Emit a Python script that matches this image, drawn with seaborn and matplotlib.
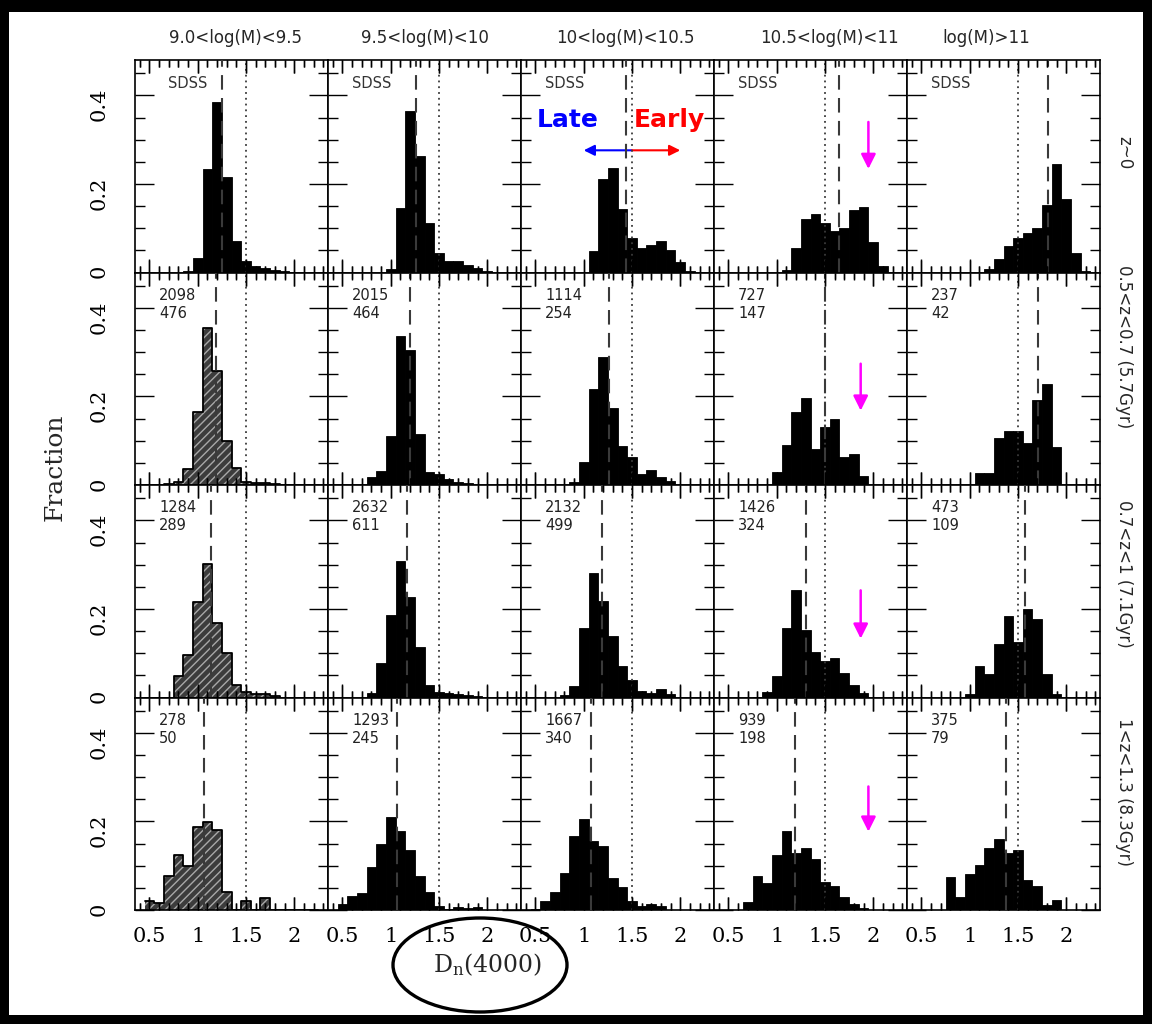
import numpy as np
import pandas as pd
import matplotlib
matplotlib.use("Agg")
import matplotlib.pyplot as plt
from matplotlib.patches import Ellipse, Rectangle
from matplotlib.ticker import MultipleLocator, FuncFormatter
import seaborn as sns

# ---------------------------------------------------------------- data
# D_n(4000) bin centres (bin width 0.1) shared by all panels
dn_bins = [0.5, 0.6, 0.7, 0.8, 0.9, 1.0, 1.1, 1.2, 1.3, 1.4,
           1.5, 1.6, 1.7, 1.8, 1.9, 2.0, 2.1, 2.2]
dn_edges = [0.45, 0.55, 0.65, 0.75, 0.85, 0.95, 1.05, 1.15, 1.25, 1.35,
            1.45, 1.55, 1.65, 1.75, 1.85, 1.95, 2.05, 2.15, 2.25]

mass_labels = ["9.0<log(M)<9.5", "9.5<log(M)<10", "10<log(M)<10.5",
               "10.5<log(M)<11", "log(M)>11"]
z_labels = ["z~0", "0.5<z<0.7 (5.7Gyr)", "0.7<z<1 (7.1Gyr)",
            "1<z<1.3 (8.3Gyr)"]

# fraction of galaxies per bin, z~0 (SDSS)
frac_z0_m1 = [0, 0, 0, 0, 0.003, 0.033, 0.234, 0.385, 0.215, 0.072, 0.025, 0.015, 0.010, 0.006, 0.004, 0.002, 0, 0]
frac_z0_m2 = [0, 0, 0, 0, 0, 0.008, 0.145, 0.364, 0.264, 0.111, 0.044, 0.026, 0.025, 0.017, 0.011, 0.004, 0, 0]
frac_z0_m3 = [0, 0, 0, 0, 0, 0, 0.049, 0.211, 0.235, 0.143, 0.077, 0.055, 0.063, 0.072, 0.051, 0.023, 0.004, 0]
frac_z0_m4 = [0, 0, 0, 0, 0, 0, 0.005, 0.055, 0.121, 0.132, 0.111, 0.094, 0.100, 0.141, 0.147, 0.069, 0.015, 0]
frac_z0_m5 = [0, 0, 0, 0, 0, 0, 0, 0.009, 0.030, 0.059, 0.079, 0.089, 0.100, 0.153, 0.245, 0.166, 0.043, 0.004]

# 0.5<z<0.7
frac_z1_m1 = [0, 0, 0.003, 0.006, 0.037, 0.165, 0.355, 0.257, 0.100, 0.038, 0.006, 0.005, 0.004, 0.003, 0, 0, 0, 0]
frac_z1_m2 = [0, 0, 0, 0.018, 0.031, 0.110, 0.336, 0.305, 0.116, 0.029, 0.024, 0.014, 0.006, 0.005, 0, 0, 0, 0]
frac_z1_m3 = [0, 0, 0, 0, 0.006, 0.053, 0.217, 0.290, 0.173, 0.088, 0.064, 0.025, 0.035, 0.018, 0.008, 0, 0, 0]
frac_z1_m4 = [0, 0, 0, 0, 0, 0.029, 0.091, 0.164, 0.196, 0.082, 0.131, 0.148, 0.063, 0.070, 0.021, 0, 0, 0]
frac_z1_m5 = [0, 0, 0, 0, 0, 0, 0.026, 0.026, 0.107, 0.122, 0.122, 0.094, 0.193, 0.229, 0.086, 0, 0, 0]

# 0.7<z<1
frac_z2_m1 = [0, 0, 0, 0.049, 0.096, 0.216, 0.301, 0.169, 0.101, 0.029, 0.013, 0.008, 0.009, 0.003, 0, 0, 0, 0]
frac_z2_m2 = [0, 0, 0, 0.011, 0.078, 0.186, 0.309, 0.227, 0.113, 0.028, 0.013, 0.010, 0.007, 0.006, 0.004, 0, 0, 0]
frac_z2_m3 = [0, 0, 0, 0.005, 0.026, 0.158, 0.282, 0.218, 0.138, 0.071, 0.039, 0.015, 0.010, 0.020, 0.009, 0, 0, 0]
frac_z2_m4 = [0, 0, 0, 0.002, 0.013, 0.049, 0.156, 0.242, 0.152, 0.103, 0.083, 0.090, 0.056, 0.028, 0.010, 0, 0, 0]
frac_z2_m5 = [0, 0, 0, 0, 0, 0.008, 0.072, 0.054, 0.121, 0.183, 0.125, 0.200, 0.178, 0.054, 0.008, 0, 0, 0]

# 1<z<1.3
frac_z3_m1 = [0.020, 0.015, 0.077, 0.124, 0.100, 0.188, 0.198, 0.181, 0.040, 0, 0.021, 0, 0.028, 0, 0, 0, 0, 0]
frac_z3_m2 = [0.013, 0.032, 0.038, 0.098, 0.148, 0.209, 0.179, 0.136, 0.077, 0.040, 0.008, 0.003, 0.007, 0.005, 0.006, 0, 0, 0]
frac_z3_m3 = [0.003, 0.021, 0.041, 0.084, 0.168, 0.205, 0.156, 0.145, 0.073, 0.051, 0.021, 0.010, 0.013, 0.008, 0, 0, 0, 0]
frac_z3_m4 = [0, 0, 0.017, 0.077, 0.062, 0.124, 0.178, 0.128, 0.139, 0.115, 0.064, 0.055, 0.030, 0.013, 0.005, 0, 0, 0]
frac_z3_m5 = [0, 0, 0, 0.074, 0.029, 0.081, 0.102, 0.139, 0.160, 0.128, 0.136, 0.068, 0.054, 0.011, 0.023, 0, 0, 0]

# median D_n(4000) of each panel (dashed lines)
median_z0 = [1.25, 1.265, 1.44, 1.65, 1.81]
median_z1 = [1.19, 1.20, 1.265, 1.50, 1.71]
median_z2 = [1.135, 1.165, 1.19, 1.30, 1.57]
median_z3 = [1.06, 1.07, 1.08, 1.19, 1.375]

# early / late dividing value (dotted lines)
dn_split = 1.5

# sample sizes (total, second number) for the high-z rows
n_total_z1 = [2098, 2015, 1114, 727, 237]
n_sub_z1 = [476, 464, 254, 147, 42]
n_total_z2 = [1284, 2632, 2132, 1426, 473]
n_sub_z2 = [289, 611, 499, 324, 109]
n_total_z3 = [278, 1293, 1667, 939, 375]
n_sub_z3 = [50, 245, 340, 198, 79]

# arrows marking the massive early-type peak (10.5<log(M)<11 column)
arrow_x = [1.95, 1.87, 1.87, 1.95]
arrow_top = [0.340, 0.274, 0.242, 0.279]
arrow_tip = [0.234, 0.168, 0.133, 0.177]

fractions = [
    [frac_z0_m1, frac_z0_m2, frac_z0_m3, frac_z0_m4, frac_z0_m5],
    [frac_z1_m1, frac_z1_m2, frac_z1_m3, frac_z1_m4, frac_z1_m5],
    [frac_z2_m1, frac_z2_m2, frac_z2_m3, frac_z2_m4, frac_z2_m5],
    [frac_z3_m1, frac_z3_m2, frac_z3_m3, frac_z3_m4, frac_z3_m5],
]
medians = [median_z0, median_z1, median_z2, median_z3]
counts = [None, (n_total_z1, n_sub_z1), (n_total_z2, n_sub_z2), (n_total_z3, n_sub_z3)]

# ---------------------------------------------------------------- style
sns.set_theme(style="ticks")
plt.rcParams.update({
    "font.family": ["DejaVu Serif"],
    "hatch.linewidth": 1.0,
    "mathtext.fontset": "dejavuserif",
    "axes.axisbelow": False,
    "xtick.direction": "in", "ytick.direction": "in",
    "xtick.top": True, "xtick.bottom": True,
    "ytick.left": True, "ytick.right": True,
    "xtick.minor.visible": True, "ytick.minor.visible": True,
    "xtick.major.size": 9.5, "xtick.minor.size": 5,
    "ytick.major.size": 14, "ytick.minor.size": 7,
    "xtick.major.width": 1.0, "xtick.minor.width": 1.0,
    "ytick.major.width": 1.0, "ytick.minor.width": 1.0,
    "xtick.color": "black", "ytick.color": "black",
    "xtick.major.pad": 12, "ytick.major.pad": 19,
    "xtick.labelsize": 15, "ytick.labelsize": 15,
    "axes.edgecolor": "black", "axes.linewidth": 1.2,
    "axes.facecolor": "white",
})
sans = ["DejaVu Sans"]

fig, axes = plt.subplots(4, 5, figsize=(11.52, 10.24), dpi=100, sharex=True, sharey=True)
fig.patch.set_facecolor("white")
fig.subplots_adjust(left=135 / 1152, right=1100 / 1152, top=1 - 60 / 1024,
                    bottom=1 - 910 / 1024, wspace=0, hspace=0)

fmt = FuncFormatter(lambda v, p: f"{v:g}")

for r in range(4):
    for c in range(5):
        ax = axes[r, c]
        df = pd.DataFrame({"dn": dn_bins, "frac": fractions[r][c]})
        hatched = (c == 0 and r > 0)
        n_before = len(ax.patches)
        sns.histplot(data=df, x="dn", weights="frac", bins=dn_edges, ax=ax,
                     element="bars", fill=True, color="black", alpha=1,
                     edgecolor="black", linewidth=0.6 if not hatched else 0)
        if hatched:
            for p in ax.patches[n_before:]:
                p.set_facecolor("#3c3c3c")
                p.set_edgecolor("#a8a8a8")
                p.set_hatch("////")
                p.set_linewidth(0)
            sns.histplot(data=df, x="dn", weights="frac", bins=dn_edges, ax=ax,
                         element="step", fill=False, color="black", linewidth=1.3)

        # dashed median and dotted split lines
        ax.axvline(medians[r][c], color="#3a3a3a", lw=1.5, ls=(0, (7, 4)), zorder=4)
        ax.axvline(dn_split, color="#3a3a3a", lw=1.3, ls=(0, (1, 2.2)), zorder=4)

        ax.set_xlim(0.35, 2.35)
        ax.set_ylim(0, 0.48)
        ax.set_xlabel("")
        ax.set_ylabel("")
        ax.xaxis.set_major_locator(MultipleLocator(0.5))
        ax.xaxis.set_minor_locator(MultipleLocator(0.1))
        ax.yaxis.set_major_locator(MultipleLocator(0.2))
        ax.yaxis.set_minor_locator(MultipleLocator(0.05))
        ax.xaxis.set_major_formatter(fmt)
        ax.yaxis.set_major_formatter(fmt)
        ax.tick_params(axis="y", labelrotation=90)

        if r == 0:
            ax.text(0.69 if c == 0 else 0.6, 0.428, "SDSS", fontsize=10.5,
                    color="#333333", ha="left", va="center", family=sans)
        else:
            tot, sub = counts[r]
            ax.text(0.6, 0.429, f"{tot[c]}", fontsize=10.5, color="#222222",
                    ha="left", va="center", family=sans)
            ax.text(0.6, 0.388, f"{sub[c]}", fontsize=10.5, color="#222222",
                    ha="left", va="center", family=sans)

        if c == 3:
            ax.annotate("", xy=(arrow_x[r], arrow_tip[r]), xytext=(arrow_x[r], arrow_top[r]),
                        arrowprops=dict(arrowstyle="-|>", color="magenta", lw=1.8,
                                        mutation_scale=22, shrinkA=0, shrinkB=0))

# mass bin headers and redshift row labels
title_pos = [0.52, 0.5, 0.54, 0.6, 0.41]
for c in range(5):
    axes[0, c].text(title_pos[c], 1.104, mass_labels[c], transform=axes[0, c].transAxes,
                    ha="center", va="center", fontsize=12, family=sans)
row_label_pos = [0.566, 0.652, 0.583, 0.555]
for r in range(4):
    axes[r, 4].text(1.124, row_label_pos[r], z_labels[r], transform=axes[r, 4].transAxes,
                    ha="center", va="center", rotation=-90, fontsize=12, family=sans)

# Late / Early guide in the 10<log(M)<10.5 local panel
ax = axes[0, 2]
ax.text(0.83, 0.344, "Late", color="#0000ff", fontsize=18, fontweight="bold",
        ha="center", va="center", clip_on=False, family=sans)
ax.text(1.89, 0.344, "Early", color="#ff0000", fontsize=18, fontweight="bold",
        ha="center", va="center", clip_on=False, family=sans)
ax.annotate("", xy=(1.0, 0.276), xytext=(dn_split, 0.276),
            arrowprops=dict(arrowstyle="-|>", color="#0000ff", lw=1.5,
                            mutation_scale=16, shrinkA=0, shrinkB=0))
ax.annotate("", xy=(2.0, 0.276), xytext=(dn_split, 0.276),
            arrowprops=dict(arrowstyle="-|>", color="#ff0000", lw=1.5,
                            mutation_scale=16, shrinkA=0, shrinkB=0))


def comb(ax, locs, frac_len):
    """Inward x tick marks on the bottom and top edges at the given locations."""
    lo, hi = ax.get_xlim()
    xs, ys = [], []
    for v in locs:
        if lo <= v <= hi:
            xs += [v, v, np.nan, v, v, np.nan]
            ys += [0, frac_len, np.nan, 1, 1 - frac_len, np.nan]
    ax.plot(xs, ys, transform=ax.get_xaxis_transform(), color="black", lw=1.0,
            solid_capstyle="butt", clip_on=False, zorder=6)


# inward ticks on all four sides, drawn above the bars
for ax in axes.flat:
    ax.set_axisbelow(False)
    ax.xaxis.set_zorder(5)
    ax.yaxis.set_zorder(5)
    ax.tick_params(axis="x", which="major", direction="in", top=True, bottom=True,
                   length=9.5, width=1.0, color="black")
    ax.tick_params(axis="x", which="minor", direction="in", top=True, bottom=True,
                   length=5, width=1.0, color="black")
    ax.tick_params(axis="y", which="major", direction="in", left=True, right=True,
                   length=14, width=1.0, color="black")
    ax.tick_params(axis="y", which="minor", direction="in", left=True, right=True,
                   length=7, width=1.0, color="black")
    comb(ax, ax.xaxis.get_majorticklocs(), 13.2 / 212.5)
    comb(ax, ax.xaxis.get_minorticklocs(), 6.9 / 212.5)
    ax.set_xlim(0.35, 2.35)
    ax.set_ylim(0, 0.48)

# axis titles
fig.text(55 / 1152, 1 - 467 / 1024, "Fraction", rotation=90, ha="center", va="center",
         fontsize=18)
fig.text(488 / 1152, 1 - 965 / 1024, r"D$_{\rm n}$(4000)", ha="center", va="center",
         fontsize=17)
fig.add_artist(Ellipse((480 / 1152, 1 - 965 / 1024), 174 / 1152, 94 / 1024,
                       transform=fig.transFigure, fill=False, edgecolor="black", lw=2.4))

# black frame around the figure
for (x0, y0, w, h) in [(0, 1012, 1152, 12), (0, 0, 9, 1024), (1143, 0, 9, 1024), (0, 0, 1152, 9)]:
    fig.add_artist(Rectangle((x0 / 1152, y0 / 1024), w / 1152, h / 1024,
                             transform=fig.transFigure, facecolor="black",
                             edgecolor="none", zorder=10))

fig.canvas.draw()
fig.savefig("out.png", dpi=100, facecolor="white")
